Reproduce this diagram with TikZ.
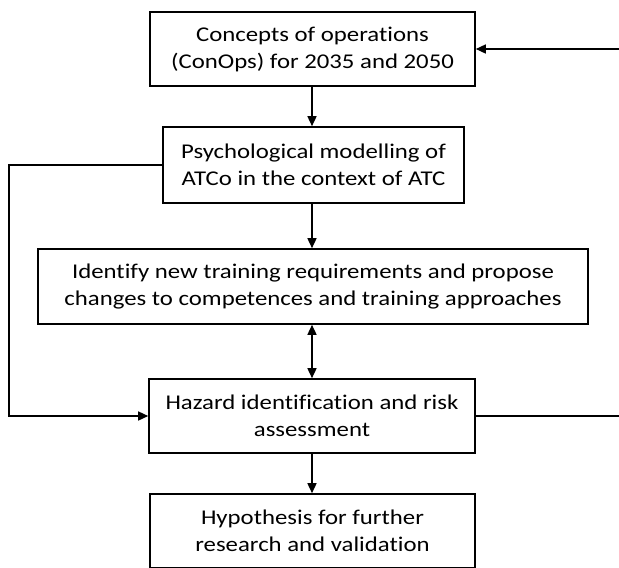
\documentclass[tikz,border=0pt]{standalone}
\usepackage{fontspec}
\setmainfont{Carlito}[Ligatures=NoCommon, FakeStretch=1.18]
\usetikzlibrary{arrows.meta}
\begin{document}
\begin{tikzpicture}[x=1pt,y=-1pt,
  stagebox/.style={draw=black, line width=1.6pt, fill=white, inner sep=0pt,
    align=center, font=\fontsize{21}{27}\selectfont},
  flow/.style={line width=1.5pt, -{Triangle[length=10pt,width=9pt]}},
  link/.style={line width=1.5pt},
  twoway/.style={line width=1.5pt, {Triangle[length=10pt,width=9pt]}-{Triangle[length=10pt,width=9pt]}}]
  \useasboundingbox (0,0) rectangle (619,568);

  % process stages
  \node[stagebox, minimum width=325pt, minimum height=74pt] (conops) at (312.5,49)
    {Concepts of operations\\(ConOps) for 2035 and 2050};
  \node[stagebox, minimum width=301pt, minimum height=76pt] (psych) at (313.5,165)
    {Psychological modelling of\\ATCo in the context of ATC};
  \node[stagebox, minimum width=550pt, minimum height=75pt] (train) at (313,286.5)
    {Identify new training requirements and propose\\changes to competences and training approaches};
  \node[stagebox, minimum width=326pt, minimum height=74pt] (hazard) at (312,416)
    {Hazard identification and risk\\assessment};
  \node[stagebox, minimum width=325pt, minimum height=74pt] (hypo) at (312.5,531)
    {Hypothesis for further\\research and validation};

  % loose ends of the feedback loop at the right border
  \coordinate (backin) at (619,49);
  \coordinate (backout) at (619,416);
  % turning column of the left bypass
  \coordinate (leftcol) at (9,0);

  % main flow
  \draw[flow] (conops.south -| 312,0) -- (psych.north -| 312,0);
  \draw[flow] (psych.south -| 312,0) -- (train.north -| 312,0);
  \draw[twoway] (train.south -| 312,0) -- (hazard.north -| 312,0);
  \draw[flow] (hazard.south -| 312,0) -- (hypo.north -| 312,0);

  % bypass from modelling to hazard identification
  \draw[flow] (psych.west) -- (psych.west -| leftcol) |- (hazard.west);

  % feedback towards the concepts of operations
  \draw[link] (hazard.east) -- (backout);
  \draw[flow] (backin) -- (conops.east);
\end{tikzpicture}
\end{document}
